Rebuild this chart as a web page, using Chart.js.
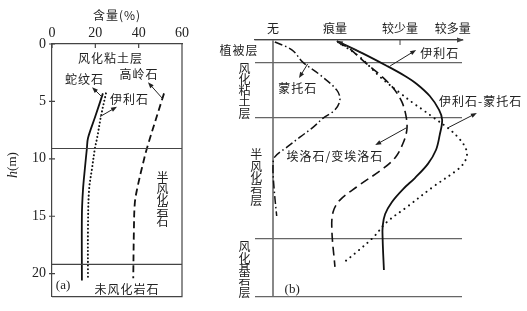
<!DOCTYPE html>
<html>
<head>
<meta charset="utf-8">
<script src="https://cdn.jsdelivr.net/npm/chart.js@4.4.1/dist/chart.umd.min.js"></script>
<style>
  body { margin: 0; background: #fff; }
  #wrap { position: relative; width: 527px; height: 311px; }
  canvas { position: absolute; top: 0; }
  #chartA { left: 0; }
  #chartB { left: 200px; }
</style>
</head>
<body>
<div id="wrap">
  <canvas id="chartA" width="200" height="311"></canvas>
  <canvas id="chartB" width="327" height="311"></canvas>
</div>
<script>
// ---- (a) 含量(%) 随深度 h(m) ----
const contentTicks = [0, 20, 40, 60];
const depthTicks = [0, 5, 10, 15, 20];
const zoneBoundsA = [9.1, 19.2];

const serpentineDepth   = [4.3, 6.3, 8.2, 9.1, 10.8, 12.7, 14.9, 20.6];
const serpentineContent = [23.5, 20.0, 16.6, 16.1, 15.2, 14.3, 13.8, 13.8];
const illiteDepthA      = [4.3, 6.3, 8.2, 9.1, 10.8, 12.7, 16.2, 20.4];
const illiteContentA    = [24.9, 22.6, 20.8, 19.8, 18.5, 17.1, 16.6, 16.6];
const kaoliniteDepth    = [4.3, 9.1, 10.8, 12.7, 13.9, 16.2, 20.4];
const kaoliniteContent  = [51.7, 43.8, 41.5, 39.2, 38.2, 37.8, 37.5];

// ---- (b) 相对含量 ----
const abundanceLabels = ['无', '痕量', '较少量', '较多量'];
const abundanceTicks = [0, 1, 2.05, 2.9];
const layerBounds = [0, 0.86, 3.03, 7.74, 10];

const illiteDepthB = [0.04, 0.51, 1.01, 1.40, 1.71, 2.18, 2.72, 3.11, 3.70, 4.28, 4.82, 5.37, 5.80, 6.30, 6.77, 7.24, 7.78, 8.95];
const illiteLevelB = [1.03, 1.44, 1.84, 2.13, 2.32, 2.53, 2.68, 2.73, 2.69, 2.63, 2.50, 2.29, 2.10, 1.92, 1.81, 1.77, 1.77, 1.79];
const montDepth = [0.08, 0.39, 0.86, 1.36, 1.95, 2.33, 2.72, 3.04, 3.39, 3.77, 4.16, 4.55, 4.94, 5.84, 6.85];
const montLevel = [0.03, 0.31, 0.48, 0.76, 1.03, 1.08, 1.00, 0.81, 0.65, 0.44, 0.23, 0.03, 0.00, 0.02, 0.06];
const halloyDepth = [0.08, 0.35, 0.86, 1.36, 1.87, 2.41, 3.00, 3.50, 4.01, 4.55, 4.98, 5.72, 6.23, 6.69, 7.39, 8.83];
const halloyLevel = [1.05, 1.24, 1.48, 1.73, 1.94, 2.08, 2.15, 2.16, 2.10, 1.98, 1.79, 1.35, 1.08, 0.97, 0.95, 1.00];
const mixedDepth = [0.08, 0.66, 1.44, 2.06, 2.45, 2.72, 3.00, 3.42, 3.77, 4.16, 4.47, 4.79, 5.06, 5.72, 6.50, 7.08, 7.70, 8.25, 8.68];
const mixedLevel = [1.05, 1.40, 1.73, 2.05, 2.26, 2.42, 2.58, 2.82, 2.98, 3.10, 3.13, 3.08, 2.97, 2.58, 2.16, 1.84, 1.61, 1.35, 1.13];

const CJK = '"Noto Sans CJK SC", sans-serif';
const SERIF = '"Liberation Serif", "DejaVu Serif", serif';
const INK = '#222';

function pts(xs, ys) { return xs.map((x, i) => ({ x: x, y: ys[i] })); }

function drawArrow(ctx, x1, y1, x2, y2) {
  const a = Math.atan2(y2 - y1, x2 - x1), L = 6, W = 2.3;
  ctx.beginPath();
  ctx.moveTo(x1, y1);
  ctx.lineTo(x2 - Math.cos(a) * 3, y2 - Math.sin(a) * 3);
  ctx.stroke();
  ctx.beginPath();
  ctx.moveTo(x2, y2);
  ctx.lineTo(x2 - L * Math.cos(a) + W * Math.sin(a), y2 - L * Math.sin(a) - W * Math.cos(a));
  ctx.lineTo(x2 - L * Math.cos(a) - W * Math.sin(a), y2 - L * Math.sin(a) + W * Math.cos(a));
  ctx.closePath();
  ctx.fill();
}

function vText(ctx, str, x, y0, step) {
  [...str].forEach((ch, i) => ctx.fillText(ch, x, y0 + i * step));
}

// annotations, in data units of each panel
const notesA = [
  { t: '风化粘土层', x: 27, y: 1.3 },
  { t: '蛇纹石', x: 15, y: 3.1 },
  { t: '高岭石', x: 40.2, y: 2.65 },
  { t: '伊利石', x: 35.8, y: 4.8 },
  { t: '未风化岩石', x: 34.6, y: 21.4 }
];
const arrowsA = [[23.1, 4.62, 18.5, 3.76], [51.2, 4.79, 44.3, 3.33], [22.2, 6.32, 30, 5.47]];

const notesB = [
  { t: '伊利石', x: 2.69, y: 0.51 },
  { t: '蒙托石', x: 0.40, y: 1.87 },
  { t: '伊利石-蒙托石', x: 3.35, y: 2.41 },
  { t: '埃洛石/变埃洛石', x: 1.0, y: 4.55 },
  { t: '植被层', x: -0.55, y: 0.39 }
];
const arrowsB = [[1.89, 1.01, 2.31, 0.39], [0.56, 0.93, 0.42, 1.48], [2.82, 3.42, 3.29, 2.84], [2.15, 3.42, 1.65, 4.09]];
const vNotesB = [
  { t: '风化粘土层', x: -0.45, y: 1.09 },
  { t: '半风化岩层', x: -0.26, y: 4.47 },
  { t: '风化基岩层', x: -0.45, y: 8.05 }
];

const annotA = {
  id: 'annotA',
  afterDraw(chart) {
    const { ctx, chartArea: ca, scales: { x, y } } = chart;
    ctx.save();
    ctx.strokeStyle = '#444';
    ctx.lineWidth = 1.2;
    ctx.beginPath();
    ctx.moveTo(ca.right, ca.top); ctx.lineTo(ca.right, ca.bottom); ctx.lineTo(ca.left, ca.bottom);
    zoneBoundsA.forEach(d => { const py = y.getPixelForValue(d); ctx.moveTo(ca.left, py); ctx.lineTo(ca.right, py); });
    contentTicks.forEach(v => { const px = x.getPixelForValue(v); ctx.moveTo(px, ca.top); ctx.lineTo(px, ca.top + 4); });
    depthTicks.forEach(d => { const py = y.getPixelForValue(d); ctx.moveTo(ca.left - 3, py); ctx.lineTo(ca.left + 3, py); });
    ctx.stroke();

    ctx.fillStyle = INK;
    ctx.textAlign = 'center';
    ctx.textBaseline = 'middle';
    ctx.font = '12px ' + CJK;
    ctx.letterSpacing = '1px';
    notesA.forEach(n => ctx.fillText(n.t, x.getPixelForValue(n.x), y.getPixelForValue(n.y)));
    vText(ctx, '半风化岩石', x.getPixelForValue(51.2), y.getPixelForValue(11.6), 11);
    ctx.fillText('含量(%)', 117, 15);
    ctx.letterSpacing = '0px';
    ctx.font = '13px ' + SERIF;
    ctx.fillText('(a)', x.getPixelForValue(5.1), y.getPixelForValue(21.0));

    ctx.strokeStyle = INK;
    ctx.lineWidth = 1;
    arrowsA.forEach(a => drawArrow(ctx, x.getPixelForValue(a[0]), y.getPixelForValue(a[1]), x.getPixelForValue(a[2]), y.getPixelForValue(a[3])));

    // h(m)
    ctx.translate(13, 165);
    ctx.rotate(-Math.PI / 2);
    ctx.font = 'italic 14px ' + SERIF;
    const w1 = ctx.measureText('h').width;
    ctx.font = '13px ' + SERIF;
    const w2 = ctx.measureText('(m)').width;
    ctx.textAlign = 'left';
    ctx.font = 'italic 14px ' + SERIF;
    ctx.fillText('h', -(w1 + w2) / 2, 0);
    ctx.font = '13px ' + SERIF;
    ctx.fillText('(m)', -(w1 + w2) / 2 + w1, 0);
    ctx.restore();
  }
};

const annotB = {
  id: 'annotB',
  afterDraw(chart) {
    const { ctx, chartArea: ca, scales: { x, y } } = chart;
    ctx.save();
    ctx.fillStyle = '#444';
    ctx.strokeStyle = '#444';
    ctx.lineWidth = 1;
    // axis arrow and tick
    const ay = y.getPixelForValue(0);
    ctx.beginPath();
    ctx.moveTo(ca.right + 2, ay); ctx.lineTo(ca.right - 5, ay - 2.5); ctx.lineTo(ca.right - 5, ay + 2.5);
    ctx.closePath(); ctx.fill();
    const tx = x.getPixelForValue(abundanceTicks[2]);
    ctx.beginPath(); ctx.moveTo(tx, ay); ctx.lineTo(tx, ay + 5); ctx.stroke();

    ctx.fillStyle = INK;
    ctx.strokeStyle = INK;
    ctx.textAlign = 'center';
    ctx.textBaseline = 'middle';
    ctx.font = '12px ' + CJK;
    ctx.letterSpacing = '1px';
    notesB.forEach(n => ctx.fillText(n.t, x.getPixelForValue(n.x), y.getPixelForValue(n.y)));
    vNotesB.forEach(n => vText(ctx, n.t, x.getPixelForValue(n.x), y.getPixelForValue(n.y), 11.3));
    ctx.letterSpacing = '0px';
    ctx.font = '13px ' + SERIF;
    ctx.fillText('(b)', x.getPixelForValue(0.31), y.getPixelForValue(9.73));

    arrowsB.forEach(a => drawArrow(ctx, x.getPixelForValue(a[0]), y.getPixelForValue(a[1]), x.getPixelForValue(a[2]), y.getPixelForValue(a[3])));
    // arrow head at top of illite curve
    const p0x = x.getPixelForValue(illiteLevelB[0]), p0y = y.getPixelForValue(illiteDepthB[0]);
    const p1x = x.getPixelForValue(illiteLevelB[1]), p1y = y.getPixelForValue(illiteDepthB[1]);
    drawArrow(ctx, p1x, p1y, p0x, p0y);
    ctx.restore();
  }
};

const lineDs = (label, data, dash, width, cap) => ({
  label: label, data: data, showLine: true, pointRadius: 0, borderColor: '#111',
  borderWidth: width, borderDash: dash, borderCapStyle: cap || 'butt', tension: 0.35, clip: false, fill: false
});

new Chart(document.getElementById('chartA'), {
  type: 'scatter',
  data: {
    datasets: [
      lineDs('蛇纹石', pts(serpentineContent, serpentineDepth), [], 1.8),
      lineDs('伊利石', pts(illiteContentA, illiteDepthA), [0.1, 3.6], 2, 'round'),
      lineDs('高岭石', pts(kaoliniteContent, kaoliniteDepth), [7, 4], 1.8)
    ]
  },
  options: {
    responsive: false,
    animation: false,
    devicePixelRatio: 1,
    layout: { padding: { left: 0, top: 0, right: 18, bottom: 9 } },
    plugins: { legend: { display: false }, tooltip: { enabled: false } },
    scales: {
      x: {
        type: 'linear', position: 'top', min: 0, max: 60,
        afterBuildTicks: s => { s.ticks = contentTicks.map(v => ({ value: v })); },
        afterFit: s => { s.height = 44; },
        ticks: { font: { family: SERIF, size: 14 }, color: INK, padding: 2, maxRotation: 0, autoSkip: false },
        grid: { display: false, drawTicks: false },
        border: { display: true, color: '#444', width: 1.2 }
      },
      y: {
        type: 'linear', reverse: true, min: 0, max: 22,
        afterBuildTicks: s => { s.ticks = depthTicks.map(v => ({ value: v })); },
        afterFit: s => { s.width = 52; },
        ticks: { font: { family: SERIF, size: 14 }, color: INK, padding: 6, autoSkip: false },
        grid: { display: false, drawTicks: false },
        border: { display: true, color: '#444', width: 1.2 }
      }
    }
  },
  plugins: [annotA]
});

new Chart(document.getElementById('chartB'), {
  type: 'scatter',
  data: {
    datasets: [
      lineDs('伊利石', pts(illiteLevelB, illiteDepthB), [], 1.8),
      lineDs('蒙托石', pts(montLevel, montDepth), [8, 3, 1.5, 3], 1.5),
      lineDs('埃洛石/变埃洛石', pts(halloyLevel, halloyDepth), [9, 5], 1.6),
      lineDs('伊利石-蒙托石', pts(mixedLevel, mixedDepth), [0.1, 5.5], 2, 'round')
    ]
  },
  options: {
    responsive: false,
    animation: false,
    devicePixelRatio: 1,
    layout: { padding: { left: 55, top: 0, right: 65, bottom: 14 } },
    plugins: { legend: { display: false }, tooltip: { enabled: false } },
    scales: {
      x: {
        type: 'linear', position: 'top', min: -0.29, max: 3.05,
        afterBuildTicks: s => { s.ticks = abundanceTicks.map(v => ({ value: v })); },
        afterFit: s => { s.height = 40; },
        ticks: {
          font: { family: CJK, size: 12 }, color: INK, padding: 4, maxRotation: 0, autoSkip: false,
          callback: (v, i) => abundanceLabels[i]
        },
        grid: {
          drawTicks: false, lineWidth: 2,
          color: c => (c.tick && c.tick.value === 0 ? '#888' : 'rgba(0,0,0,0)')
        },
        border: { display: true, color: '#444', width: 1.2 }
      },
      y: {
        type: 'linear', reverse: true, min: 0, max: 10,
        afterBuildTicks: s => { s.ticks = layerBounds.map(v => ({ value: v })); },
        afterFit: s => { s.width = 0; },
        ticks: { display: false },
        grid: { drawTicks: false, color: '#666', lineWidth: 1.2 },
        border: { display: false }
      }
    }
  },
  plugins: [annotB]
});
</script>
</body>
</html>
